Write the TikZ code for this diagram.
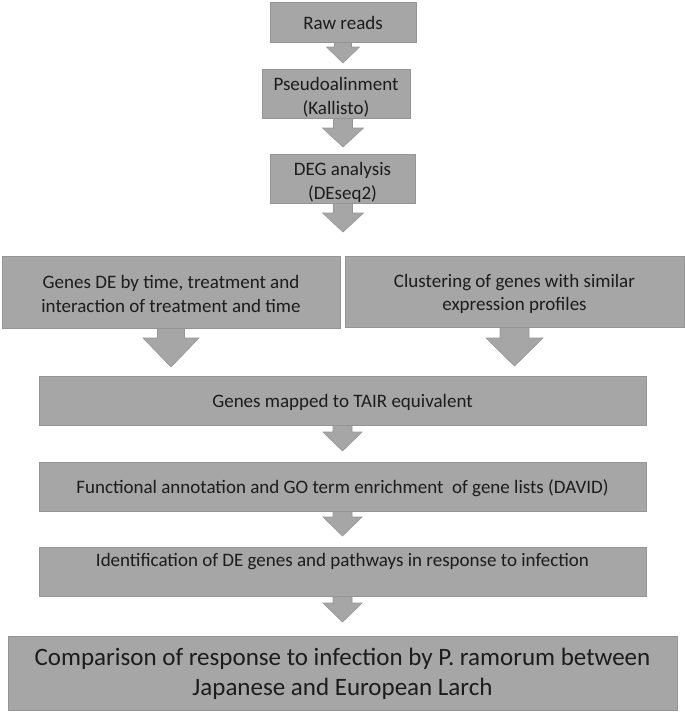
\documentclass[tikz,border=0pt]{standalone}
\usepackage{fontspec}
\setmainfont{Carlito}
\definecolor{boxfill}{HTML}{A6A6A6}
\definecolor{boxline}{HTML}{959595}
\definecolor{txt}{HTML}{1C1C1C}
\newcommand\blockarr[6]{% cx, ytop, yhead, ytip, shaft half, head half
  \fill[boxfill, draw=boxline, line width=0.6pt, line join=miter]
    (#1-#5,#2) -- (#1-#5,#3) -- (#1-#6,#3) -- (#1,#4) -- (#1+#6,#3) -- (#1+#5,#3) -- (#1+#5,#2) -- cycle;}
\begin{document}
\begin{tikzpicture}[x=1pt,y=-1pt,
  box/.style={draw=boxline, fill=boxfill, line width=0.8pt, inner sep=0pt},
  lbl/.style={inner sep=0pt, align=center, text=txt, font=\fontsize{19}{23.5}\selectfont},
  biglbl/.style={lbl, font=\fontsize{25}{29.5}\selectfont}]
\useasboundingbox (0,0) rectangle (685,712);
% arrows first (drawn under boxes)
\blockarr{343}{40}{47}{63}{8.5}{16.5}
\blockarr{343}{116}{128}{147}{9.5}{20.5}
\blockarr{343}{201}{213}{232}{9.5}{20.5}
\blockarr{171}{326}{338}{367}{13.5}{28}
\blockarr{514.5}{325}{338}{366}{14.5}{28.5}
\blockarr{342.5}{423}{432}{451}{9.5}{19.5}
\blockarr{342.5}{509}{517}{536}{9.5}{19.5}
\blockarr{342.5}{594}{603}{622}{9.5}{19.5}
% boxes
\node[box, minimum width=146, minimum height=40] (raw) at (343,22) {};
\node[box, minimum width=148, minimum height=49] (pseudo) at (336,93.5) {};
\node[box, minimum width=145, minimum height=49] (deg) at (342.5,178.5) {};
\node[box, minimum width=338, minimum height=72] (gde) at (171,292) {};
\node[box, minimum width=339, minimum height=71] (clu) at (514.5,291.5) {};
\node[box, minimum width=607, minimum height=49] (tair) at (342.5,400.5) {};
\node[box, minimum width=607, minimum height=49] (func) at (342.5,486.5) {};
\node[box, minimum width=607, minimum height=49] (ident) at (342.5,571.5) {};
\node[box, minimum width=669, minimum height=74] (comp) at (342.5,673) {};
% texts
\node[lbl] (rawT) at (343,23) {Raw reads};
\node[lbl] (pseudoT) at (336,97) {Pseudoalinment\\(Kallisto)};
\node[lbl] (degT) at (342.5,182.5) {DEG analysis\\(DEseq2)};
\node[lbl] (gdeT) at (171,294) {Genes DE by time, treatment and\\interaction of treatment and time};
\node[lbl] (cluT) at (514.5,294) {Clustering of genes with similar\\expression profiles};
\node[lbl] (tairT) at (342.5,402.5) {Genes mapped to TAIR equivalent};
\node[lbl] (funcT) at (342.5,488.5) {Functional annotation and GO term enrichment\ \ of gene lists (DAVID)};
\node[lbl] (identT) at (342.5,562) {Identification of DE genes and pathways in response to infection};
\node[biglbl] (compT) at (342.5,674) {Comparison of response to infection by P. ramorum between\\Japanese and European Larch};
\end{tikzpicture}
\end{document}
